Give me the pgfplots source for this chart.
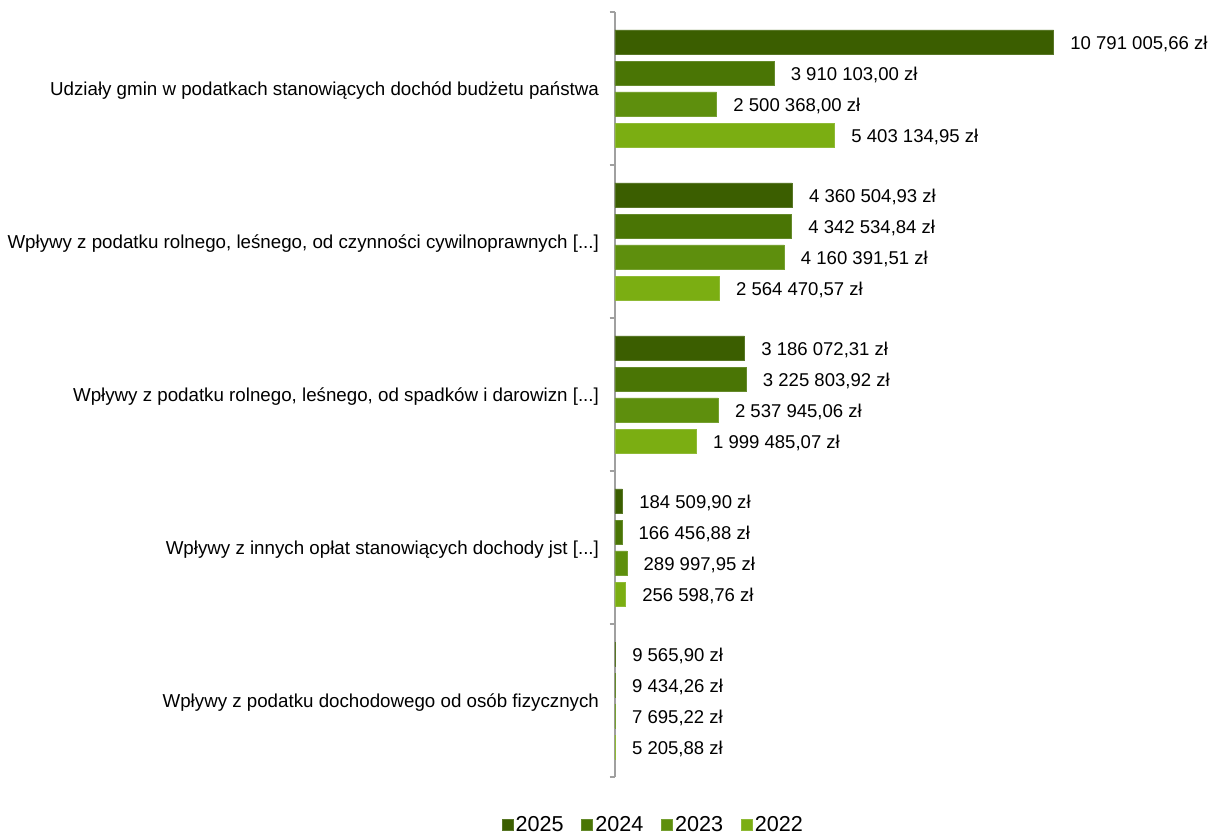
\documentclass[border=0pt]{standalone}
\usepackage{pgfplots}
\pgfplotsset{compat=1.18}
\usepackage{fontspec}
\setmainfont{Liberation Sans}

\definecolor{c25}{HTML}{3B5E00}
\definecolor{c24}{HTML}{4A7505}
\definecolor{c23}{HTML}{5E8F0D}
\definecolor{c22}{HTML}{7BAE12}
\definecolor{axisgray}{HTML}{A0A0A0}
\newcommand{\dd}{[...]}

\begin{document}
\begin{tikzpicture}
\begin{axis}[
  xbar,
  scale only axis,
  width=381pt,
  height=573.75pt,
  xmin=0, xmax=12500000,
  ymin=-0.5, ymax=4.5,
  y dir=reverse,
  axis x line=none,
  axis y line*=left,
  y axis line style={axisgray, line width=0.9pt},
  ytick={0,1,2,3,4},
  yticklabels={
    {Udziały gmin w podatkach stanowiących dochód budżetu państwa},
    {Wpływy z podatku rolnego, leśnego, od czynności cywilnoprawnych \dd},
    {Wpływy z podatku rolnego, leśnego, od spadków i darowizn \dd},
    {Wpływy z innych opłat stanowiących dochody jst \dd},
    {Wpływy z podatku dochodowego od osób fizycznych}},
  major tick length=0pt,
  minor ytick={-0.5,0.5,1.5,2.5,3.5,4.5},
  minor tick length=4pt,
  tick align=outside,
  ytick pos=left,
  minor tick style={axisgray, line width=0.9pt},
  yticklabel style={font=\fontsize{14.05}{16}\selectfont, text=black, xshift=-8.5pt, yshift=-1.3pt},
  bar width=0.157,
  clip=false,
  point meta=explicit symbolic,
  nodes near coords,
  every node near coord/.append style={font=\fontsize{13.9}{16}\selectfont, text=black, anchor=west, inner sep=0pt, xshift=12.5pt, yshift=-1.5pt},
  legend style={at={(rel axis cs:0.076,-0.0625)}, anchor=center, draw=none, fill=none,
    font=\fontsize{16.2}{18}\selectfont, legend columns=-1, inner sep=0pt,
    /tikz/every even column/.append style={column sep=11.25pt}},
  legend image code/.code={\fill[#1] (0pt,-4.1pt) rectangle (8.2pt,4.1pt);},
]
\addplot[fill=c25, draw=c25!85!white, line width=0.3pt, bar shift=-0.304] coordinates {
(10791005.66,0) [10 791 005,66 zł]
(4360504.93,1) [4 360 504,93 zł]
(3186072.31,2) [3 186 072,31 zł]
(184509.90,3) [184 509,90 zł]
(9565.90,4) [9 565,90 zł]
};
\addplot[fill=c24, draw=c24!85!white, line width=0.3pt, bar shift=-0.101] coordinates {
(3910103.00,0) [3 910 103,00 zł]
(4342534.84,1) [4 342 534,84 zł]
(3225803.92,2) [3 225 803,92 zł]
(166456.88,3) [166 456,88 zł]
(9434.26,4) [9 434,26 zł]
};
\addplot[fill=c23, draw=c23!85!white, line width=0.3pt, bar shift=0.101] coordinates {
(2500368.00,0) [2 500 368,00 zł]
(4160391.51,1) [4 160 391,51 zł]
(2537945.06,2) [2 537 945,06 zł]
(289997.95,3) [289 997,95 zł]
(7695.22,4) [7 695,22 zł]
};
\addplot[fill=c22, draw=c22!85!white, line width=0.3pt, bar shift=0.304] coordinates {
(5403134.95,0) [5 403 134,95 zł]
(2564470.57,1) [2 564 470,57 zł]
(1999485.07,2) [1 999 485,07 zł]
(256598.76,3) [256 598,76 zł]
(5205.88,4) [5 205,88 zł]
};
\legend{2025,2024,2023,2022}
\coordinate (bbtl) at (rel axis cs:-1.2106,1.01569);
\coordinate (bbbr) at (rel axis cs:1.1791,-0.0745);
\end{axis}
\pgfresetboundingbox
\useasboundingbox (bbtl) rectangle (bbbr);
\end{tikzpicture}
\end{document}
